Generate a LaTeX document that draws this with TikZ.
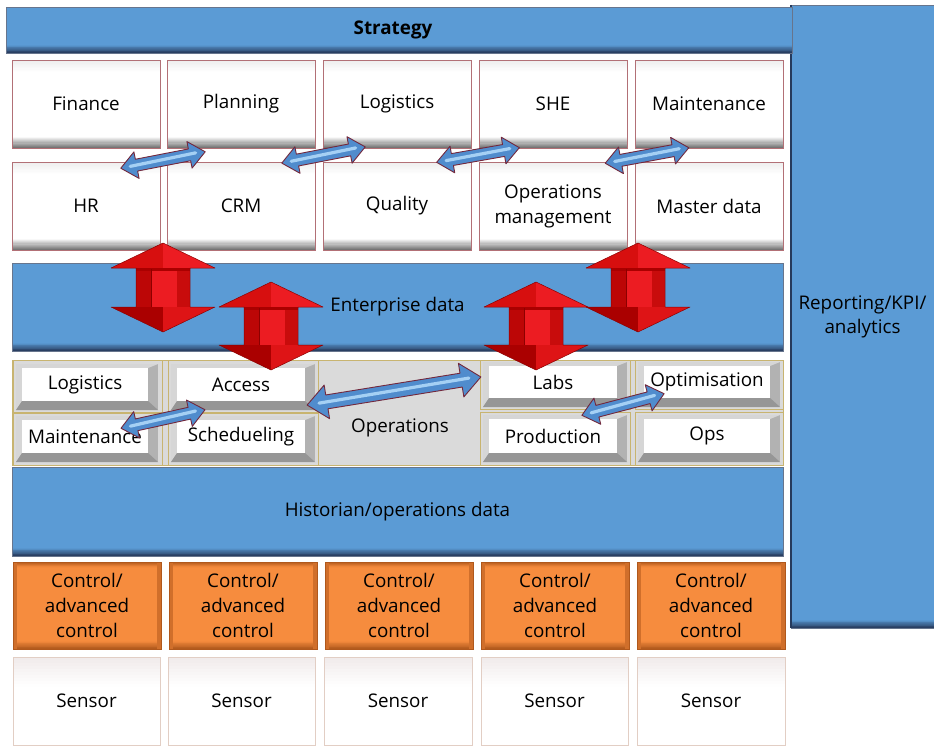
\documentclass[tikz,border=0pt]{standalone}
\usepackage{fontspec}
\setmainfont{Open Sans}
\usetikzlibrary{calc}
\definecolor{barblue}{RGB}{91,155,213}
\definecolor{bardark}{RGB}{38,58,92}
\definecolor{boxedge}{RGB}{178,112,118}
\definecolor{opsgray}{RGB}{218,218,218}
\definecolor{beige}{RGB}{200,180,112}
\definecolor{orng}{RGB}{246,140,62}
\definecolor{orngdark}{RGB}{176,88,28}
\definecolor{sensedge}{RGB}{226,206,196}
\definecolor{senstop}{RGB}{240,234,234}
\definecolor{bevlight}{RGB}{214,214,214}
\definecolor{bevmid}{RGB}{178,178,178}
\definecolor{bevdark}{RGB}{150,150,150}
\definecolor{tbshade}{RGB}{110,110,110}
\definecolor{tbtop}{RGB}{236,236,236}
\definecolor{rA}{RGB}{215,15,15}
\definecolor{rB}{RGB}{236,28,34}
\definecolor{rC}{RGB}{170,0,0}
\definecolor{rD}{RGB}{222,20,22}
\definecolor{rE}{RGB}{188,6,6}
\definecolor{rF}{RGB}{200,12,12}
\definecolor{redline}{RGB}{140,0,0}
\definecolor{blA}{RGB}{80,140,205}
\definecolor{blB}{RGB}{165,208,244}
\definecolor{arredge}{RGB}{115,40,60}
\colorlet{white0}{white}
\tikzset{
  txt/.style={font=\fontsize{18.8}{25}\selectfont, align=center, text=black},
  base/.style={txt, inner sep=0pt, outer sep=0pt, anchor=north west},
  face/.style={txt, fill=white, inner sep=0pt, outer sep=0pt, anchor=north west},
  sz/.style n args={4}{minimum width={(#3-#1)*1pt}, minimum height={(#4-#2)*1pt}},
  cell/.style={draw=beige, line width=1pt},
  bluearrow/.style={fill=blA, draw=arredge, line width=0.9pt, line join=round},
  bluehl/.style={draw=blB, line width=3.2pt, line cap=round}
}
% vertical gradient: x1 y1 x2 y2 colorfrom colorto (top to bottom)
\newcommand\vgrad[6]{\pgfmathsetmacro\gya{#2}\pgfmathsetmacro\gyb{#4}%
  \foreach \i in {0,...,9}{\pgfmathtruncatemacro\p{(\i+0.5)*10}%
  \fill[#6!\p!#5] (#1,{\gya+(\gyb-\gya)*\i/10}) rectangle (#3,{\gya+(\gyb-\gya)*(\i+1)/10+0.4});}}
% bar: name x1 y1 x2 y2 text
\newcommand\barbox[6]{%
  \fill[barblue] (#2,#3) rectangle (#4,#5);
  \vgrad{#2}{#5-8}{#4}{#5}{barblue}{bardark}
  \node[base, draw=bardark!70, line width=0.6pt, sz={#2}{#3}{#4}{#5}] (#1) at (#2,#3) {#6};}
% top box
\newcommand\topbox[6]{%
  \fill[white] (#2,#3) rectangle (#4,#5);
  \vgrad{#2}{#3}{#4}{#3+12}{tbtop}{white0}
  \vgrad{#2}{#5-11}{#4}{#5}{white0}{tbshade}
  \node[base, draw=boxedge, line width=0.8pt, sz={#2}{#3}{#4}{#5}] (#1) at (#2,#3) {#6};}
% control box
\newcommand\ctrlbox[6]{%
  \fill[orng] (#2,#3) rectangle (#4,#5);
  \vgrad{#2}{#5-8}{#4}{#5}{orng}{orngdark}
  \vgrad{#2}{#3}{#4}{#3+5}{orngdark}{orng}
  \fill[orngdark!55!orng] (#2,#3) rectangle (#2+4,#5);
  \fill[orngdark!55!orng] (#4-4,#3) rectangle (#4,#5);
  \node[base, draw=orngdark, line width=0.9pt, sz={#2}{#3}{#4}{#5}] (#1) at (#2,#3) {#6};}
% sensor box
\newcommand\sensbox[6]{%
  \fill[white] (#2,#3) rectangle (#4,#5);
  \vgrad{#2}{#3}{#4}{#3+30}{senstop}{white0}
  \node[base, draw=sensedge, line width=0.8pt, sz={#2}{#3}{#4}{#5}] (#1) at (#2,#3) {#6};}
% bevel button: name x1 y1 x2 y2 text
\newcommand\bevbox[6]{%
  \fill[bevmid] (#2,#3) rectangle (#4,#5);
  \fill[bevlight] (#2,#3) -- (#4,#3) -- (#4-10,#3+4) -- (#2+6,#3+4) -- (#2+6,#5-9) -- (#2,#5) -- cycle;
  \fill[bevdark] (#2,#5) -- (#2+6,#5-9) -- (#4-10,#5-9) -- (#4,#5) -- cycle;
  \node[face, minimum width={(#4-#2-16)*1pt}, minimum height={(#5-#3-13)*1pt}] (#1) at (#2+6,#3+4) {#6};}
% red vertical double arrow: cx ytop ybot
\newcommand\redarr[3]{%
  \fill[rA] (#1,#2) -- (#1-52,#2+25) -- (#1,#2+25) -- cycle;
  \fill[rB] (#1,#2) -- (#1+52,#2+25) -- (#1,#2+25) -- cycle;
  \fill[rE] (#1-27,#2+25) rectangle (#1-12,#3-25);
  \fill[rB] (#1-12,#2+25) rectangle (#1+14,#3-25);
  \fill[rF] (#1+14,#2+25) rectangle (#1+27,#3-25);
  \fill[rC] (#1-52,#3-25) -- (#1,#3) -- (#1,#3-25) -- cycle;
  \fill[rD] (#1+52,#3-25) -- (#1,#3) -- (#1,#3-25) -- cycle;
  \fill[rC] (#1-27,#2+25) rectangle (#1+27,#2+28);
  \draw[redline, line width=0.5pt] (#1-12,#2+26) -- (#1-12,#3-25);
  \draw[redline, line width=0.5pt, line join=round] (#1,#2) -- (#1+52,#2+25) -- (#1+27,#2+25) -- (#1+27,#3-25) -- (#1+52,#3-25) -- (#1,#3)
    -- (#1-52,#3-25) -- (#1-27,#3-25) -- (#1-27,#2+25) -- (#1-52,#2+25) -- cycle;}
% blue double arrow: cx cy angle length headhalf shafthalf headlen
\newcommand\bluearr[7]{%
  \begin{scope}[shift={(#1,#2)}, rotate=#3]
  \filldraw[bluearrow] (-#4/2,0) -- (-#4/2+#7,-#5) -- (-#4/2+#7,-#6) -- (#4/2-#7,-#6) -- (#4/2-#7,-#5) -- (#4/2,0)
    -- (#4/2-#7,#5) -- (#4/2-#7,#6) -- (-#4/2+#7,#6) -- (-#4/2+#7,#5) -- cycle;
  \draw[bluehl] (-#4/2+#7*0.6,0) -- (#4/2-#7*0.6,-0.8);
  \end{scope}}
\begin{document}
\begin{tikzpicture}[x=1pt, y=-1pt]
\useasboundingbox (0,0) rectangle (934,746);
% right column and strategy
\barbox{report}{791}{5}{934}{628}{\raisebox{-4pt}{\begin{tabular}{@{}c@{}}Reporting/KPI/\\[-1pt]analytics\end{tabular}}}
\draw[bardark, line width=1.2pt] (report.north west) -- (report.south west);
\barbox{strategy}{6}{7}{792}{53}{\hspace*{-12pt}\bfseries Strategy}
% top boxes
\topbox{finance}{12}{60}{160}{148}{Finance}
\topbox{planning}{167}{60}{315}{148}{Planning}
\topbox{logtop}{323}{60}{471}{148}{Logistics}
\topbox{she}{479}{60}{627}{148}{SHE}
\topbox{maintop}{635}{60}{783}{148}{Maintenance}
\topbox{hr}{12}{162}{160}{250}{HR}
\topbox{crm}{167}{162}{315}{250}{CRM}
\topbox{quality}{323}{162}{471}{250}{Quality}
\topbox{opsman}{479}{162}{627}{250}{Operations\\management}
\topbox{master}{635}{162}{783}{250}{Master data}
% enterprise data
\barbox{enterprise}{12}{263}{783}{351}{Enterprise data}
% operations region
\fill[opsgray] (12,360) rectangle (783,465);
\draw[beige, line width=1pt] (12,360) rectangle (783,465);
\draw[cell] (13,360) rectangle (162,412);
\draw[cell] (13,413) rectangle (162,465);
\draw[cell] (168,360) rectangle (318,412);
\draw[cell] (168,413) rectangle (318,465);
\draw[cell] (480,360) rectangle (630,409);
\draw[cell] (480,412) rectangle (630,465);
\draw[cell] (635,360) rectangle (783,409);
\draw[cell] (635,412) rectangle (783,465);
\bevbox{logops}{16}{364}{158}{410}{Logistics}
\bevbox{mainops}{16}{416}{158}{462}{Maintenance}
\bevbox{access}{171}{364}{315}{410}{Access}
\bevbox{sched}{171}{416}{315}{462}{Schedueling}
\bevbox{labs}{483}{362}{627}{407}{Labs}
\bevbox{prod}{483}{415}{627}{462}{Production}
\bevbox{optim}{638}{362}{780}{407}{Optimisation}
\bevbox{opsbox}{638}{415}{780}{462}{Ops}
\node[txt] (operations) at (400,428) {Operations};
% historian
\barbox{historian}{12}{467}{783}{556}{Historian/operations data}
% control and sensors
\ctrlbox{c1}{13}{562}{161}{649}{Control/\\advanced\\control}
\ctrlbox{c2}{169}{562}{317}{649}{Control/\\advanced\\control}
\ctrlbox{c3}{325}{562}{473}{649}{Control/\\advanced\\control}
\ctrlbox{c4}{481}{562}{629}{649}{Control/\\advanced\\control}
\ctrlbox{c5}{637}{562}{785}{649}{Control/\\advanced\\control}
\sensbox{s1}{13}{657}{160}{745}{Sensor}
\sensbox{s2}{168}{657}{315}{745}{Sensor}
\sensbox{s3}{324}{657}{472}{745}{Sensor}
\sensbox{s4}{481}{657}{628}{745}{Sensor}
\sensbox{s5}{637}{657}{785}{745}{Sensor}
% red arrows
\redarr{163}{243}{332}
\redarr{638}{243}{332}
\redarr{271}{282}{370}
\redarr{536}{282}{370}
% blue arrows
\bluearr{163}{160}{11}{86}{13.5}{6}{16}
\bluearr{323.5}{155}{11}{85}{13.5}{6}{16}
\bluearr{478}{155}{10}{84}{13.5}{6}{16}
\bluearr{647}{155.5}{10.5}{85}{13.5}{6}{16}
\bluearr{394}{391}{9.2}{176}{17}{7}{20}
\bluearr{163}{419}{12.4}{86}{13.5}{6}{16}
\bluearr{623}{404.5}{14.7}{85}{13.5}{6}{16}
\end{tikzpicture}
\end{document}
